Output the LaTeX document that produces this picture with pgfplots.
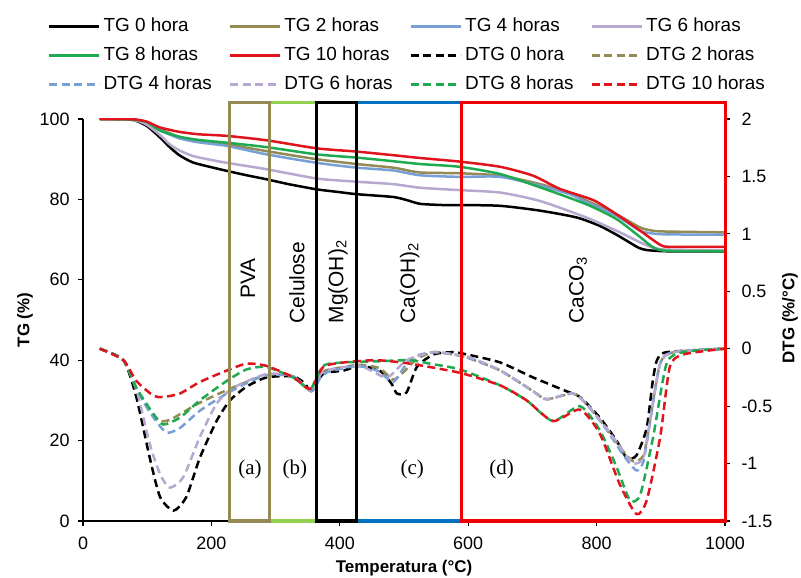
\documentclass[border=0pt]{standalone}
\usepackage{pgfplots}
\pgfplotsset{compat=1.18}
\usepackage{fontspec}
\setmainfont{Liberation Sans}
\newfontfamily\timesf{Liberation Serif}

\definecolor{cOlive}{RGB}{148,138,84}
\definecolor{cBlue}{RGB}{120,160,215}
\definecolor{cPurple}{RGB}{182,168,206}
\definecolor{cGreen}{RGB}{30,170,80}
\definecolor{cRed}{RGB}{225,20,30}
\definecolor{bGreen}{RGB}{146,208,80}
\definecolor{bBlue}{RGB}{0,112,192}
\definecolor{bRed}{RGB}{240,0,0}

\begin{document}
\begin{tikzpicture}
\useasboundingbox (-83bp,-57bp) rectangle (718bp,521bp);
\pgfplotsset{
  every axis/.append style={
    width=642bp, height=402bp, scale only axis,
    xmin=0, xmax=1000,
    ticklabel style={font=\fontsize{18}{18}\selectfont},
    /pgf/number format/assume math mode=true,
    /pgf/number format/1000 sep={},
    tick align=outside, major tick length=5bp,
    tick style={black, line width=1.2pt},
    axis line style={-, line width=1.5pt},
    label style={font=\bfseries\fontsize{17}{17}\selectfont},
  },
  tg/.style={line width=2.5bp, smooth, tension=0.4, no markers},
  dtg/.style={line width=2.5bp, smooth, tension=0.4, no markers, dash pattern=on 8bp off 4.5bp},
}
\begin{axis}[
  axis x line*=bottom, axis y line*=left,
  ymin=0, ymax=100, ytick={0,20,40,60,80,100},
  xtick={0,200,400,600,800,1000},
  yticklabel style={xshift=-5bp},
  xticklabel style={yshift=-7bp},
  xlabel={Temperatura (°C)},
  ylabel={TG (\%)},
  xlabel style={at={(axis description cs:0.5,-0.1169)}, anchor=center},
  ylabel style={at={(axis description cs:-0.0903,0.5)}, anchor=center},
]
% TG 0 hora
\addplot[tg, black] coordinates {
(26,100)(60,100)(80,99.7)(100,98.2)(120,95.4)(135,93)(150,91)(171,89.2)(200,88)(224,87.1)(255,86)(286,85)(320,83.8)(364,82.5)(400,81.8)(426,81.3)(483,80.6)(505,79.8)(525,78.9)(560,78.6)(587,78.6)(650,78.4)(712,77.2)(769,75.5)(805,73.4)(830,71.3)(847,69.7)(865,68)(878,67.4)(909,67.1)(1000,67.1)};
% TG 2 horas
\addplot[tg, cOlive] coordinates {
(26,100)(80,99.8)(100,99)(120,97.5)(150,95.5)(180,94.5)(224,93.7)(286,92)(364,90)(426,88.8)(483,87.9)(525,86.7)(587,86.5)(650,85.9)(712,83.8)(760,81.5)(784,79.7)(831,76.3)(868,73)(888,72.2)(910,72)(1000,71.8)};
% TG 4 horas
\addplot[tg, cBlue] coordinates {
(26,100)(80,99.8)(100,98.9)(120,97.2)(150,95.2)(180,94.2)(224,93.3)(286,91.2)(364,89.1)(426,87.9)(483,87.2)(525,86)(587,85.6)(650,85.6)(712,83.4)(760,81.2)(784,79.3)(831,75.9)(868,72.2)(888,71.5)(910,71.3)(1000,71.2)};
% TG 6 horas
\addplot[tg, cPurple] coordinates {
(26,100)(80,99.7)(100,98.5)(120,96)(135,93.7)(150,92.2)(171,90.8)(200,89.8)(224,89.1)(286,87.5)(364,85.2)(426,84.4)(483,83.8)(525,82.9)(587,82.3)(650,81.7)(712,79.6)(784,75.5)(831,72.2)(868,69.3)(888,68)(910,67.5)(1000,67.3)};
% TG 8 horas
\addplot[tg, cGreen] coordinates {
(26,100)(80,99.8)(100,99.2)(120,97.1)(150,95.6)(180,94.8)(224,94.1)(286,93)(364,91.2)(426,90.4)(483,89.5)(525,88.8)(587,88.1)(650,86.3)(712,83)(784,78.8)(831,75.1)(868,70.6)(888,68.1)(909,67.2)(1000,67.1)};
% TG 10 horas
\addplot[tg, cRed] coordinates {
(26,100)(80,99.9)(100,99.3)(120,97.9)(150,96.8)(180,96.2)(224,95.8)(286,94.7)(364,92.7)(426,91.9)(483,91)(525,90.3)(587,89.4)(650,88.1)(701,85.9)(743,82.6)(795,79.8)(831,76.3)(868,72.2)(899,68.7)(915,68.2)(1000,68.2)};
\end{axis}

\begin{axis}[
  axis y line*=right, axis x line=none,
  ymin=-1.5, ymax=2, ytick={-1.5,-1,-0.5,0,0.5,1,1.5,2},
  yticklabel style={xshift=8bp},
  ylabel={DTG (\%/°C)},
  ylabel style={at={(axis description cs:1.1012,0.505)}, anchor=center, rotate=0},
  clip=false,
  legend columns=4,
  legend cell align=left,
  legend style={at={(axis description cs:-0.0545,1.2512)}, anchor=north west,
    draw=none, fill=none, inner sep=0pt, outer sep=0pt,
    font=\fontsize{19}{19}\selectfont, row sep=12bp,
    nodes={inner sep=0pt, text height=13bp, text depth=4bp},
    /tikz/every odd column/.append style={column sep=3bp},
    /tikz/every even column/.append style={column sep=17bp}},
  legend image code/.code={\draw[#1, smooth=false] (0bp,0bp) -- (50bp,0bp);},
  legend entries={TG 0 hora, TG 2 horas, TG 4 horas, TG 6 horas,
    TG 8 horas, TG 10 horas, DTG 0 hora, DTG 2 horas,
    DTG 4 horas, DTG 6 horas, DTG 8 horas, DTG 10 horas},
]
\addlegendimage{tg, black}
\addlegendimage{tg, cOlive}
\addlegendimage{tg, cBlue}
\addlegendimage{tg, cPurple}
\addlegendimage{tg, cGreen}
\addlegendimage{tg, cRed}
% DTG 0 hora
\addplot[dtg, black] coordinates {
(26,0)(63,-0.1)(83,-0.42)(104,-0.95)(120,-1.29)(141,-1.41)(161,-1.29)(182,-0.95)(208,-0.63)(229,-0.45)(255,-0.33)(286,-0.25)(327,-0.24)(345,-0.3)(356,-0.37)(374,-0.22)(406,-0.19)(431,-0.15)(462,-0.19)(480,-0.3)(489,-0.39)(504,-0.38)(520,-0.16)(546,-0.05)(577,-0.03)(598,-0.05)(650,-0.12)(701,-0.25)(753,-0.37)(774,-0.42)(805,-0.6)(831,-0.8)(847,-0.95)(862,-0.93)(878,-0.69)(887,-0.3)(894,-0.1)(909,-0.03)(1000,0)};
% DTG 2 horas
\addplot[dtg, cOlive] coordinates {
(26,0)(63,-0.1)(83,-0.34)(104,-0.55)(120,-0.63)(135,-0.62)(151,-0.57)(182,-0.47)(224,-0.36)(255,-0.29)(286,-0.23)(327,-0.24)(356,-0.37)(374,-0.2)(406,-0.16)(431,-0.14)(462,-0.17)(483,-0.27)(500,-0.2)(520,-0.09)(546,-0.03)(577,-0.05)(600,-0.08)(650,-0.19)(701,-0.37)(722,-0.44)(763,-0.39)(784,-0.48)(815,-0.69)(841,-0.89)(857,-0.98)(873,-0.93)(883,-0.63)(899,-0.13)(920,-0.03)(1000,0)};
% DTG 4 horas
\addplot[dtg, cBlue] coordinates {
(26,0)(63,-0.1)(83,-0.35)(110,-0.6)(130,-0.73)(151,-0.69)(182,-0.54)(224,-0.39)(255,-0.3)(286,-0.23)(327,-0.24)(356,-0.37)(374,-0.22)(406,-0.17)(431,-0.15)(462,-0.2)(483,-0.29)(504,-0.13)(520,-0.06)(546,-0.03)(577,-0.05)(600,-0.08)(650,-0.19)(701,-0.37)(722,-0.44)(763,-0.39)(784,-0.48)(815,-0.7)(841,-0.92)(862,-1.06)(873,-0.98)(883,-0.65)(899,-0.13)(920,-0.03)(1000,0)};
% DTG 6 horas
\addplot[dtg, cPurple] coordinates {
(26,0)(63,-0.1)(83,-0.35)(104,-0.83)(120,-1.09)(135,-1.21)(156,-1.12)(182,-0.77)(208,-0.48)(234,-0.34)(286,-0.22)(327,-0.24)(356,-0.37)(374,-0.2)(431,-0.15)(473,-0.25)(504,-0.1)(546,-0.03)(577,-0.05)(600,-0.07)(650,-0.19)(701,-0.37)(722,-0.44)(763,-0.39)(784,-0.48)(815,-0.69)(841,-0.89)(857,-1.0)(873,-0.95)(883,-0.63)(899,-0.13)(920,-0.03)(1000,0)};
% DTG 8 horas
\addplot[dtg, cGreen] coordinates {
(26,0)(63,-0.1)(83,-0.34)(110,-0.57)(125,-0.66)(151,-0.6)(182,-0.45)(224,-0.28)(255,-0.18)(286,-0.16)(327,-0.25)(354,-0.35)(374,-0.15)(406,-0.12)(457,-0.11)(509,-0.1)(540,-0.13)(587,-0.18)(650,-0.32)(691,-0.45)(732,-0.63)(774,-0.5)(805,-0.71)(831,-1.03)(852,-1.32)(868,-1.27)(888,-0.77)(909,-0.13)(935,-0.03)(1000,0)};
% DTG 10 horas
\addplot[dtg, cRed] coordinates {
(26,0)(63,-0.1)(83,-0.28)(110,-0.41)(125,-0.42)(151,-0.39)(182,-0.29)(224,-0.19)(255,-0.13)(286,-0.15)(328,-0.25)(354,-0.35)(374,-0.16)(406,-0.12)(457,-0.1)(509,-0.13)(587,-0.21)(650,-0.32)(691,-0.45)(732,-0.63)(774,-0.53)(805,-0.74)(836,-1.18)(862,-1.44)(878,-1.32)(899,-0.77)(914,-0.16)(935,-0.05)(1000,0)};

% region boxes
\draw[bGreen, line width=3bp] (axis cs:290,-1.5) rectangle (axis cs:363,2.1435);
\draw[bBlue, line width=3bp] (axis cs:426,-1.5) rectangle (axis cs:589,2.1435);
\draw[cOlive, line width=3bp] (axis cs:227.5,-1.5) rectangle (axis cs:290,2.1435);
\draw[black, line width=3bp] (axis cs:363,-1.5) rectangle (axis cs:426,2.1435);
\draw[bRed, line width=3bp] (axis cs:589,-1.5) rectangle (axis cs:1000,2.1435);

\begin{scope}[every node/.style={rotate=90, anchor=west, inner sep=0pt, font=\fontsize{21}{21}\selectfont}]
\node at (axis cs:257,0.4355) {PVA};
\node at (axis cs:333,0.219) {Celulose};
\node at (axis cs:397,0.219) {Mg(OH)\textsubscript{2}};
\node at (axis cs:509,0.219) {Ca(OH)\textsubscript{2}};
\node at (axis cs:771,0.219) {CaCO\textsubscript{3}};
\end{scope}
\begin{scope}[every node/.style={font=\timesf\fontsize{21}{21}\selectfont}]
\node at (axis cs:260,-1.0555) {(a)};
\node at (axis cs:330,-1.0555) {(b)};
\node at (axis cs:513,-1.0555) {(c)};
\node at (axis cs:652,-1.0555) {(d)};
\end{scope}
\end{axis}
\end{tikzpicture}
\end{document}
